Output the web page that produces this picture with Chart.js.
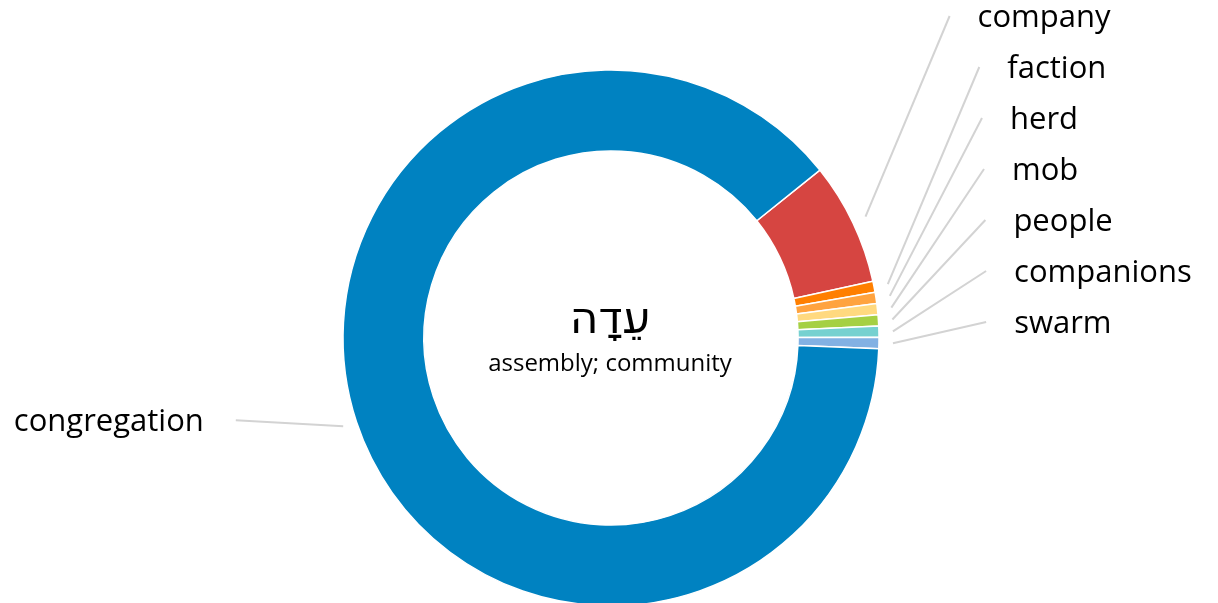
<!DOCTYPE html>
<html>
<head>
<meta charset="utf-8">
<script src="https://cdn.jsdelivr.net/npm/chart.js@4/dist/chart.umd.min.js"></script>
<style>
  html, body { margin: 0; padding: 0; background: #fff; overflow: hidden; }
  #wrap { position: relative; width: 1218px; height: 676px; }
</style>
</head>
<body>
<div id="wrap"><canvas id="c"></canvas></div>
<script>
// ---- data ----
const categories = ["company", "faction", "herd", "mob", "people", "companions", "swarm", "congregation"];
const counts = [11, 1, 1, 1, 1, 1, 1, 132];
const sliceColors = ["#d64541", "#ff7f00", "#ffa33f", "#ffd97f", "#a5d043", "#76d1d0", "#82b1e3", "#0082c1"];
const centerWord = "עֵדָה";
const centerGloss = "assembly; community";

const LABEL_FONT = '31px "Open Sans", "Noto Sans", sans-serif';

const labelPlugin = {
  id: 'leaderLabels',
  afterDatasetsDraw(chart) {
    const ctx = chart.ctx;
    const meta = chart.getDatasetMeta(0);
    const arcs = meta.data;
    if (!arcs.length) return;
    const cx = arcs[0].x, cy = arcs[0].y;
    const R = arcs[0].outerRadius;
    const items = arcs.map((a, i) => {
      const mid = (a.startAngle + a.endAngle) / 2; // canvas angle (0 = 3 o'clock)
      const sx = cx + (R + 14) * Math.cos(mid);
      const sy = cy + (R + 14) * Math.sin(mid);
      const right = Math.cos(mid) >= 0;
      return { i, mid, sx, sy, right };
    });
    // right side: stack upward from just above center
    const rightItems = items.filter(o => o.right).sort((a, b) => a.sy - b.sy);
    const gap = 51;
    let y = cy - 16;
    for (let k = rightItems.length - 1; k >= 0; k--) {
      const o = rightItems[k];
      o.ey = Math.min(y, o.sy);
      y = o.ey - gap;
      o.ex = cx + 1.4 * R * Math.cos(o.mid);
    }
    items.filter(o => !o.right).forEach(o => {
      o.ex = cx - 1.4 * R;
      o.ey = o.sy - 6;
    });

    ctx.save();
    ctx.strokeStyle = '#d3d3d3';
    ctx.lineWidth = 2;
    items.forEach(o => {
      ctx.beginPath();
      ctx.moveTo(o.sx, o.sy);
      ctx.lineTo(o.ex, o.ey);
      ctx.stroke();
    });
    ctx.fillStyle = '#000';
    ctx.font = LABEL_FONT;
    ctx.textBaseline = 'middle';
    items.forEach(o => {
      const txt = chart.data.labels[o.i];
      if (o.right) {
        ctx.textAlign = 'left';
        ctx.fillText(txt, o.ex + 28, o.ey + 2);
      } else {
        ctx.textAlign = 'right';
        ctx.fillText(txt, o.ex - 32, o.ey + 2);
      }
    });
    // center text
    ctx.textAlign = 'center';
    ctx.font = '44px "DejaVu Sans", "Liberation Sans", sans-serif';
    ctx.fillText(centerWord, cx - 1, cy - 16);
    ctx.font = '24px "Open Sans", "Noto Sans", sans-serif';
    ctx.fillText(centerGloss, cx - 1, cy + 26);
    ctx.restore();
  }
};

new Chart(document.getElementById('c'), {
  type: 'doughnut',
  data: {
    labels: categories,
    datasets: [{
      data: counts,
      backgroundColor: sliceColors,
      borderColor: '#ffffff',
      borderWidth: 1.5
    }]
  },
  options: {
    responsive: true,
    maintainAspectRatio: false,
    animation: false,
    rotation: 51.2,
    radius: 268,
    cutout: '69.8%',
    layout: { padding: { left: 4, right: 0, top: 0, bottom: 0 } },
    plugins: {
      legend: { display: false },
      tooltip: { enabled: false }
    }
  },
  plugins: [labelPlugin]
});
</script>
</body>
</html>
